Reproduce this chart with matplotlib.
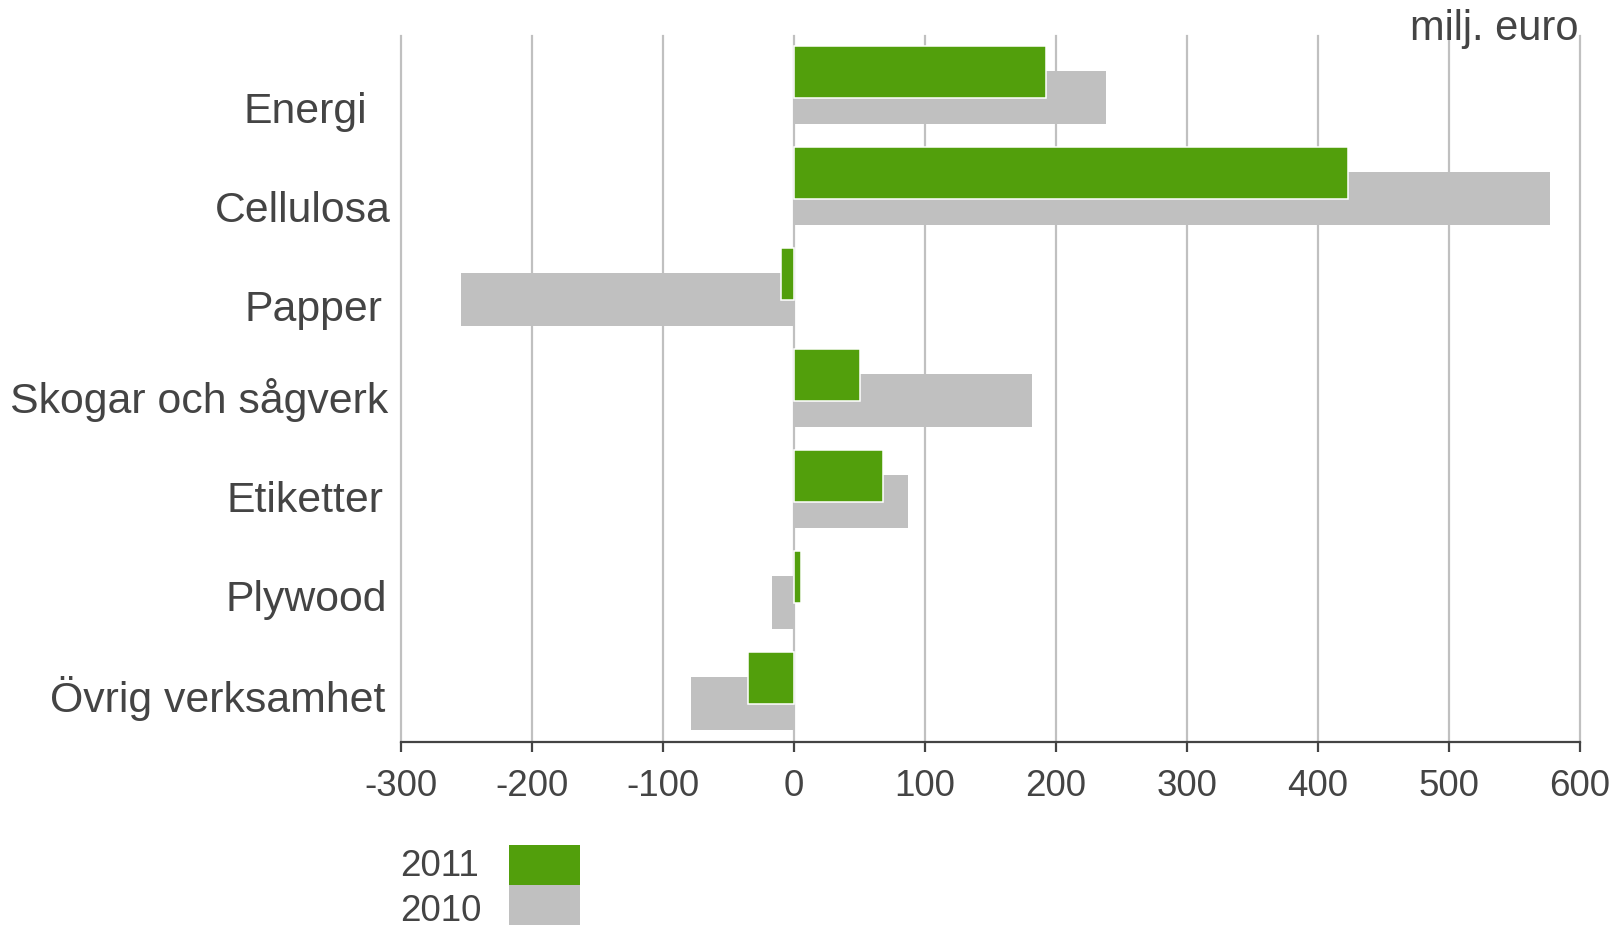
import matplotlib
matplotlib.use("Agg")
import matplotlib.pyplot as plt
from matplotlib.patches import Rectangle

# ---------------- data ----------------
categories = ["Energi", "Cellulosa", "Papper", "Skogar och sågverk",
              "Etiketter", "Plywood", "Övrig verksamhet"]
values_2011 = [192, 423, -10, 50, 68, 5, -35]
values_2010 = [238, 577, -254, 182, 87, -17, -79]
xticks = [-300, -200, -100, 0, 100, 200, 300, 400, 500, 600]
series_labels = ["2011", "2010"]
unit_label = "milj. euro"

# ---------------- style / layout ----------------
GREEN = "#529f0c"
GREY = "#c0c0c0"
TXT = "#444444"
plt.rcParams["font.family"] = ["Liberation Sans", "DejaVu Sans"]
plt.rcParams["axes.unicode_minus"] = False

W, H, DPI = 1618, 925, 100
fig = plt.figure(figsize=(W / DPI, H / DPI), dpi=DPI)
ax_left, ax_right, ax_top, ax_bottom = 401, 1580, 36, 742
ax = fig.add_axes([ax_left / W, 1 - ax_bottom / H,
                   (ax_right - ax_left) / W, (ax_bottom - ax_top) / H])

ypos = list(range(len(categories)))
green_off, green_h = -0.146, 0.515
grey_off, grey_h = 0.111, 0.528

ax.barh([y + grey_off for y in ypos], values_2010, height=grey_h,
        color=GREY, edgecolor="none", zorder=2)
ax.barh([y + green_off for y in ypos], values_2011, height=green_h,
        color=GREEN, edgecolor="white", linewidth=1.1, zorder=3)

ax.set_xlim(xticks[0], xticks[-1])
ax.set_ylim(len(categories) - 0.51, -0.5)

for x in xticks:
    ax.axvline(x, color=GREY, lw=1.6, zorder=1, clip_on=False)

for s in ["top", "left", "right"]:
    ax.spines[s].set_visible(False)
ax.spines["bottom"].set_color(TXT)
ax.spines["bottom"].set_linewidth(1.6)
ax.spines["bottom"].set_zorder(4)

ax.set_xticks(xticks)
ax.set_xticklabels([str(v) for v in xticks])
ax.tick_params(axis="x", direction="out", length=7.5, width=1.6, color=TXT,
               labelsize=26.5, labelcolor=TXT, pad=12)
ax.set_yticks([])

# category labels (individually placed as in the original)
label_dy = [0.36, 0.34, 0.32, 0.23, 0.215, 0.195, 0.19]
label_pad_px = [34, 10, 19, 13, 17, 14, 16]
for y, lab, dy, pad in zip(ypos, categories, label_dy, label_pad_px):
    ax.annotate(lab, xy=(0, y + dy), xycoords=("axes fraction", "data"),
                xytext=(-pad * 0.72, 0), textcoords="offset points",
                ha="right", va="baseline", fontsize=30.8, color=TXT)

# unit label
fig.text(1578 / W, 1 - 40 / H, unit_label, ha="right", va="baseline",
         fontsize=30, color=TXT)

# legend (manual)
leg_colors = [GREEN, GREY]
leg_tops = [845, 885]
leg_baselines = [876, 921]
for lab, col, top, base in zip(series_labels, leg_colors, leg_tops, leg_baselines):
    fig.patches.append(Rectangle((509 / W, 1 - (top + 40) / H), 71 / W, 40 / H,
                                 transform=fig.transFigure, facecolor=col,
                                 edgecolor="none"))
    fig.text(400 / W, 1 - base / H, lab, ha="left", va="baseline",
             fontsize=26.5, color=TXT)

fig.savefig("out.png", dpi=DPI)
